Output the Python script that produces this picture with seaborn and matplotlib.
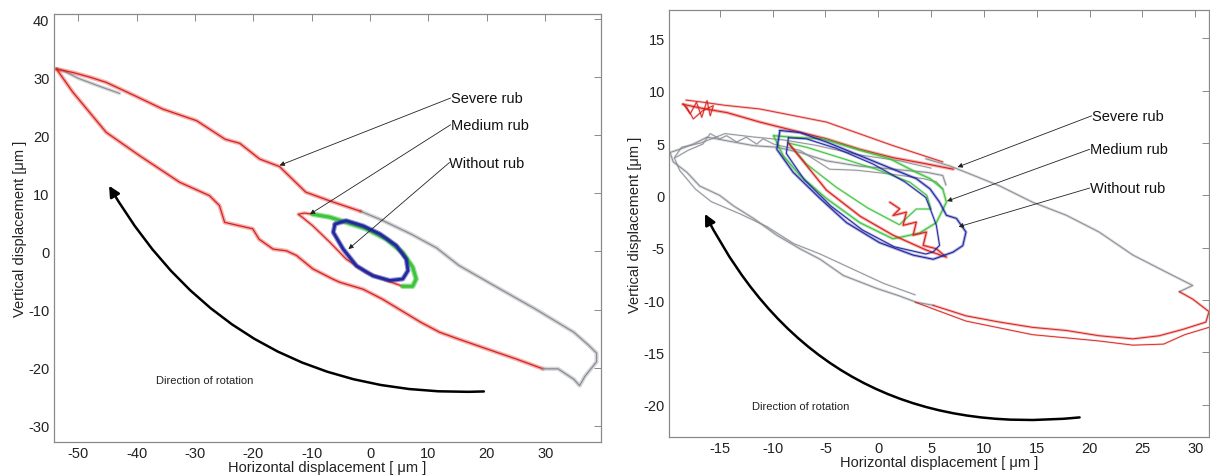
import numpy as np
import pandas as pd
import matplotlib
matplotlib.use('Agg')
import matplotlib.pyplot as plt
import seaborn as sns

sns.set_style('white')
plt.rcParams['font.family'] = ['Liberation Sans', 'DejaVu Sans']
plt.rcParams['axes.unicode_minus'] = False

RED   = '#d9201c'
GREY  = '#8a8d94'
GREEN = '#3cc43c'
BLUE  = '#2228a0'

# ---------------- left panel (orbits, in um) ----------------
L_SEV_LOWER_X = [-53.7, -50.9, -45.2, -39.5, -32.6, -27.5, -25.8, -24.9, -22.3, -20.1, -19.0, -16.6,
                 -14.3, -12.6, -9.8, -6.4, -5.2, -1.2, 2.1, 8.7, 11.9, 15.2, 21.8, 25.0, 29.6]
L_SEV_LOWER_Y = [31.4, 27.4, 20.5, 16.5, 11.9, 9.6, 7.9, 5.0, 4.4, 3.9, 2.1, 0.4,
                 0.1, -0.7, -3.0, -4.75, -5.3, -6.5, -8.2, -12.2, -13.9, -15.1, -17.4, -18.5, -20.2]
L_SEV_RIGHT_X = [29.6, 32.2, 34.9, 35.9, 36.8, 38.8, 38.8, 37.5, 34.9, 28.3, 21.8, 15.2, 11.4, 7.0, 2.0, -1.6]
L_SEV_RIGHT_Y = [-20.2, -20.2, -22.0, -23.1, -21.5, -19.0, -17.5, -16.2, -13.9, -9.9, -6.2, -2.4, 0.6, 3.0, 5.4, 6.9]
L_SEV_UPPER_X = [-1.6, -6.9, -11.0, -15.5, -18.9, -22.3, -24.8, -29.7, -35.5, -40.3, -45.2, -48.0, -50.9, -53.7]
L_SEV_UPPER_Y = [6.9, 8.7, 10.2, 14.6, 15.9, 18.6, 19.3, 22.5, 24.5, 26.8, 29.1, 30.0, 30.8, 31.4]
L_SEV_TOP_X = [-53.7, -52.3, -50.0, -46.0, -42.9]
L_SEV_TOP_Y = [31.4, 31.0, 29.8, 28.3, 27.2]

L_MED_GREEN_X = [-9.8, -6.9, -4.1, -0.7, 2.8, 5.6, 7.3, 7.9, 7.3, 5.6]
L_MED_GREEN_Y = [6.4, 5.9, 5.0, 3.9, 2.1, -0.2, -2.7, -4.75, -6.0, -6.0]
L_MED_RED_X = [-9.8, -11.2, -12.3, -11.5, -9.8, -6.9, -4.1, -0.7, 2.8, 5.6]
L_MED_RED_Y = [6.4, 6.6, 6.4, 5.8, 4.4, 1.6, -1.3, -3.6, -5.0, -6.0]

L_NO_X = [-6.0, -6.3, -4.6, -2.3, 0.5, 3.4, 5.6, 6.5, 6.2, 4.5, 1.7, -1.2, -4.1, -6.0]
L_NO_Y = [4.7, 3.3, 0.4, -2.5, -4.2, -5.0, -4.75, -3.3, -1.3, 1.0, 3.0, 4.4, 5.3, 4.7]

# ---------------- right panel ----------------
R_SEV_GREY_A_X = [6.4, 6.1, 4.6, 1.4, -1.8, -4.9, -7.4, -9.6, -11.8, -13.7, -15.3, -16.2, -17.5, -18.8,
                  -19.7, -19.4, -18.1, -16.9, -15.0, -13.7, -11.8, -9.6, -7.4, -5.5, -3.3, -0.1, 2.0, 3.6, 5.2]
R_SEV_GREY_A_Y = [1.0, 1.9, 2.2, 2.5, 2.8, 3.3, 4.1, 4.6, 4.75, 5.1, 5.4, 5.55, 4.9, 4.4,
                  4.1, 3.2, 2.2, 0.9, 0.0, -1.0, -2.2, -3.8, -5.1, -6.1, -7.65, -8.9, -9.6, -10.2, -10.5]
R_SEV_GREY_B_X = [5.0, 2.0, -2.0, -6.0, -9.0, -12.0, -14.5, -16.8, -18.6, -19.3, -18.8, -17.3, -15.8,
                  -13.0, -10.5, -8.0, -5.5, -2.5, 0.5, 3.5]
R_SEV_GREY_B_Y = [2.6, 3.3, 3.9, 4.8, 5.3, 5.6, 5.9, 5.0, 4.6, 3.6, 2.4, 0.6, -0.6,
                  -1.8, -3.0, -4.6, -5.6, -7.0, -8.4, -9.5]
R_SEV_GREY_C_X = [6.1, 5.5, 4.25, 1.1, -2.05, -4.6, -7.4, -9.9, -10.9, -11.5, -12.5, -13.4, -14.35,
                  -15.0, -15.9, -16.6, -18.0, -19.2]
R_SEV_GREY_C_Y = [0.6, 1.3, 1.6, 2.05, 2.4, 2.5, 4.3, 4.9, 5.4, 4.9, 5.55, 5.1, 5.7,
                  5.4, 5.9, 4.9, 4.3, 3.6]
R_SEV_RED_LOW_X = [5.2, 8.3, 11.5, 14.6, 17.8, 20.9, 24.1, 26.6, 28.8, 31.0, 31.3, 29.75, 28.5]
R_SEV_RED_LOW_Y = [-10.5, -11.5, -12.1, -12.6, -12.9, -13.4, -13.7, -13.4, -12.8, -12.1, -11.1, -9.9, -9.2]
R_SEV_RED_LOW2_X = [3.5, 8.3, 14.6, 20.9, 24.1, 27.0, 29.0, 31.3]
R_SEV_RED_LOW2_Y = [-10.2, -12.0, -13.3, -13.9, -14.3, -14.2, -13.3, -12.6]
R_SEV_GREY_UP_X = [28.5, 29.75, 27.2, 24.1, 20.9, 17.8, 14.6, 11.5, 8.3, 6.8, 4.5]
R_SEV_GREY_UP_Y = [-9.2, -8.6, -7.3, -5.7, -3.5, -1.9, -0.65, 0.9, 2.2, 2.8, 3.5]
R_SEV_RED_TOP_X = [7.1, 4.6, 1.4, -1.75, -4.9, -8.05, -11.2, -14.3, -16.6, -18.5]
R_SEV_RED_TOP_Y = [2.5, 3.0, 3.6, 4.4, 5.4, 6.2, 7.0, 7.9, 8.3, 8.7]
R_SEV_RED_TOP2_X = [6.1, 1.4, -4.9, -11.2, -14.5, -16.6, -18.2]
R_SEV_RED_TOP2_Y = [3.2, 4.75, 7.0, 8.25, 8.6, 8.9, 9.1]
R_SEV_RED_KNOT_X = [-18.45, -17.8, -17.2, -16.7, -16.2, -15.9, -15.6, -16.6, -17.5, -18.1, -18.45]
R_SEV_RED_KNOT_Y = [8.73, 7.78, 8.9, 7.46, 9.05, 7.6, 8.57, 8.1, 7.3, 8.4, 8.73]

R_MED_GREEN_X = [-9.9, -9.0, -7.4, -4.9, -1.75, 1.4, 3.9, 5.5, 6.45, 6.1, 4.9, 3.6, 1.1, -2.05, -5.2,
                 -8.05, -9.9]
R_MED_GREEN_Y = [5.7, 3.8, 1.9, -0.3, -2.6, -4.15, -3.6, -2.6, -0.65, 0.62, 1.6, 2.2, 3.5, 4.4, 5.4,
                 5.55, 5.7]
R_MED_GREEN2_X = [-8.5, -6.8, -4.0, -1.0, 2.0, 3.6, 5.0, 4.6, 3.0, -0.2, -3.3, -6.8, -8.5]
R_MED_GREEN2_Y = [5.0, 3.0, 0.8, -1.2, -2.8, -1.3, -1.3, 0.0, 1.25, 2.5, 3.5, 4.6, 5.0]
R_MED_RED_X = [-8.5, -6.5, -4.9, -1.7, 1.4, 4.5, 6.45, 5.5, 4.25, 4.56, 3.3, 3.6, 2.35, 2.66, 1.4, 2.03, 1.09]
R_MED_RED_Y = [5.0, 2.5, 0.5, -2.0, -3.8, -5.2, -5.9, -5.1, -4.77, -3.5, -3.8, -2.55, -2.86, -1.6, -1.92,
               -1.28, -0.65]

R_NO_X = [-9.3, -9.6, -8.05, -5.5, -3.0, 0.1, 3.3, 5.2, 7.07, 8.0, 8.3, 7.4, 6.45, 5.8, 4.9, 3.6, 1.4,
          -1.75, -4.9, -7.4, -9.3]
R_NO_Y = [6.2, 4.4, 2.2, -0.3, -2.6, -4.5, -5.7, -6.1, -5.42, -4.8, -3.5, -2.2, -1.9, -0.65, 0.62, 1.6, 2.5,
          3.8, 5.1, 6.0, 6.2]
R_NO2_X = [-8.5, -8.7, -7.0, -4.5, -1.5, 1.5, 4.5, 5.2, 5.8, 5.5, 5.0, 4.5, 2.5, -0.5, -4.0, -6.8, -8.5]
R_NO2_Y = [5.5, 4.0, 1.5, -1.0, -3.3, -4.9, -5.6, -5.4, -4.77, -2.86, -1.5, -0.2, 1.3, 3.0, 4.5, 5.4, 5.5]

LABELS = ['Severe rub', 'Medium rub', 'Without rub']
L_LABEL_XY = [(13.8, 26.4), (13.8, 21.8), (13.6, 15.3)]
L_TIP_XY = [(-15.5, 14.8), (-10.3, 6.4), (-3.7, 0.4)]
R_LABEL_XY = [(20.2, 7.6), (20.0, 4.4), (20.0, 0.7)]
R_TIP_XY = [(7.5, 2.7), (6.5, -0.55), (7.6, -3.0)]


def trace(ax, xs, ys, color, lw=0.8, halo=2.6, halo_alpha=0.35):
    df = pd.DataFrame({'x': xs, 'y': ys})
    sns.lineplot(data=df, x='x', y='y', sort=False, estimator=None, ax=ax,
                 color=color, lw=halo, alpha=halo_alpha)
    sns.lineplot(data=df, x='x', y='y', sort=False, estimator=None, ax=ax,
                 color=color, lw=lw)


def style_axes(ax, xlim, ylim, xticks, yticks):
    ax.set_xlim(*xlim)
    ax.set_ylim(*ylim)
    ax.set_xticks(xticks)
    ax.set_yticks(yticks)
    ax.tick_params(direction='in', length=5, width=0.6, color='#777777', top=True, right=True,
                   labelsize=10.5, labelcolor='#222222', pad=3)
    for sp in ax.spines.values():
        sp.set_color('#8a8a8a')
        sp.set_linewidth(0.9)
    ax.set_xlabel('Horizontal displacement [ μm ]', fontsize=10.5, labelpad=0, color='#222222')
    ax.set_ylabel('Vertical displacement [μm ]', fontsize=10.5, labelpad=1, color='#222222')


def callouts(ax, label_xy, tip_xy):
    for lab, (tx, ty), tip in zip(LABELS, label_xy, tip_xy):
        ax.annotate('', xy=tip, xytext=(tx, ty),
                    arrowprops=dict(arrowstyle='-|>', lw=0.6, color='#222222',
                                    mutation_scale=7, shrinkA=0, shrinkB=0))
        ax.text(tx, ty, lab, fontsize=10.5, ha='left', va='center', color='#111111')


fig = plt.figure(figsize=(12.1, 4.77), dpi=100)
axl = fig.add_axes([0.0443, 0.0719, 0.4521, 0.8966])
axr = fig.add_axes([0.5529, 0.0811, 0.4463, 0.8958])

# left panel
trace(axl, L_SEV_TOP_X, L_SEV_TOP_Y, GREY)
trace(axl, L_SEV_LOWER_X, L_SEV_LOWER_Y, RED, lw=0.9, halo=3.0)
trace(axl, L_SEV_RIGHT_X, L_SEV_RIGHT_Y, GREY, lw=0.9, halo=3.0)
trace(axl, L_SEV_UPPER_X, L_SEV_UPPER_Y, RED, lw=0.9, halo=3.0)
trace(axl, L_MED_RED_X, L_MED_RED_Y, RED)
trace(axl, L_MED_GREEN_X, L_MED_GREEN_Y, GREEN, lw=2.2, halo=4.0, halo_alpha=0.5)
trace(axl, L_NO_X, L_NO_Y, BLUE, lw=2.0, halo=3.6, halo_alpha=0.5)
style_axes(axl, (-54.2, 39.5), (-32.75, 40.86), range(-50, 31, 10), range(-30, 41, 10))
callouts(axl, L_LABEL_XY, L_TIP_XY)
axl.text(-36.6, -22.1, 'Direction of rotation', fontsize=8, ha='left', va='center', color='#222222')
axl.annotate('', xy=(-44.7, 11.3), xytext=(19.5, -24.1),
             arrowprops=dict(arrowstyle='-|>', connectionstyle='arc3,rad=-0.3', lw=1.8,
                             color='black', mutation_scale=16, shrinkA=0, shrinkB=0))

# right panel
trace(axr, R_SEV_GREY_A_X, R_SEV_GREY_A_Y, GREY, lw=0.7, halo=2.0, halo_alpha=0.3)
trace(axr, R_SEV_GREY_B_X, R_SEV_GREY_B_Y, GREY, lw=0.6, halo=1.5, halo_alpha=0.25)
trace(axr, R_SEV_GREY_C_X, R_SEV_GREY_C_Y, GREY, lw=0.6, halo=1.5, halo_alpha=0.25)
trace(axr, R_SEV_GREY_UP_X, R_SEV_GREY_UP_Y, GREY, lw=0.7, halo=2.0, halo_alpha=0.3)
trace(axr, R_SEV_RED_LOW_X, R_SEV_RED_LOW_Y, RED, lw=0.7, halo=2.0, halo_alpha=0.3)
trace(axr, R_SEV_RED_LOW2_X, R_SEV_RED_LOW2_Y, RED, lw=0.6, halo=1.5, halo_alpha=0.25)
trace(axr, R_SEV_RED_TOP_X, R_SEV_RED_TOP_Y, RED, lw=0.8, halo=2.4, halo_alpha=0.35)
trace(axr, R_SEV_RED_TOP2_X, R_SEV_RED_TOP2_Y, RED, lw=0.6, halo=1.8, halo_alpha=0.3)
trace(axr, R_SEV_RED_KNOT_X, R_SEV_RED_KNOT_Y, RED, lw=0.6, halo=1.5, halo_alpha=0.3)
trace(axr, R_MED_GREEN_X, R_MED_GREEN_Y, GREEN, lw=0.8, halo=2.2, halo_alpha=0.35)
trace(axr, R_MED_GREEN2_X, R_MED_GREEN2_Y, GREEN, lw=0.7, halo=1.8, halo_alpha=0.3)
trace(axr, R_MED_RED_X, R_MED_RED_Y, RED, lw=0.8, halo=2.2, halo_alpha=0.35)
trace(axr, R_NO_X, R_NO_Y, BLUE, lw=0.8, halo=2.2, halo_alpha=0.35)
trace(axr, R_NO2_X, R_NO2_Y, BLUE, lw=0.7, halo=1.8, halo_alpha=0.3)
style_axes(axr, (-19.8, 31.3), (-23.1, 17.7), range(-15, 31, 5), range(-20, 16, 5))
callouts(axr, R_LABEL_XY, R_TIP_XY)
axr.text(-11.9, -20.1, 'Direction of rotation', fontsize=8, ha='left', va='center', color='#222222')
axr.annotate('', xy=(-16.4, -1.77), xytext=(19.05, -21.2),
             arrowprops=dict(arrowstyle='-|>', connectionstyle='arc3,rad=-0.34', lw=1.8,
                             color='black', mutation_scale=16, shrinkA=0, shrinkB=0))

fig.savefig('out.png', dpi=100)
plt.close(fig)
